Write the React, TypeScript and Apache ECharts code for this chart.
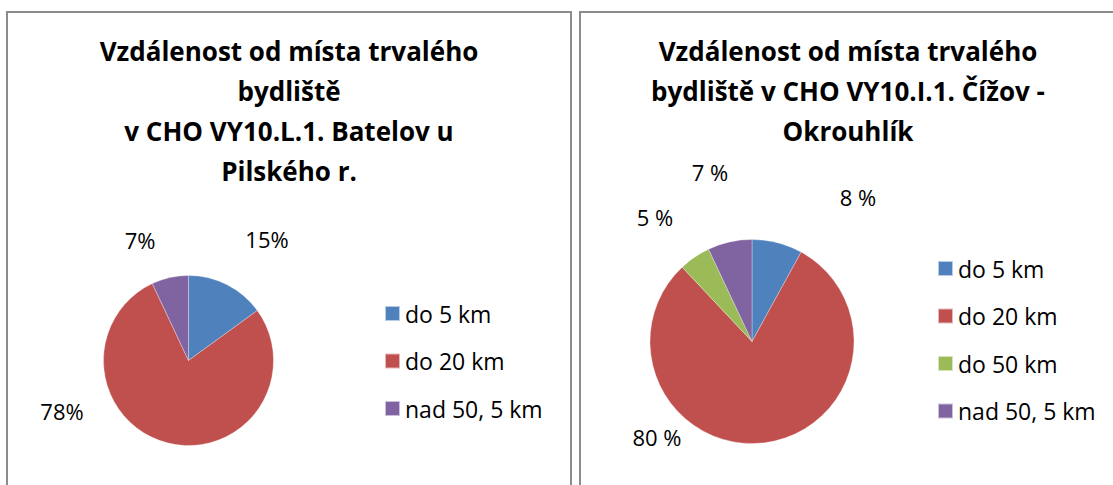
import React, { useEffect, useRef } from "react";
import * as echarts from "echarts";

// ---- data ----
const leftCategories = ["do 5 km", "do 20 km", "nad 50, 5 km"];
const leftValues = [15, 78, 7];
const leftColors = ["#4F81BD", "#C0504D", "#8064A2"];
const leftTitle = "Vzdálenost od místa trvalého\nbydliště\nv CHO VY10.L.1. Batelov u\nPilského r.";

const rightCategories = ["do 5 km", "do 20 km", "do 50 km", "nad 50, 5 km"];
const rightValues = [8, 80, 5, 7];
const rightColors = ["#4F81BD", "#C0504D", "#9BBB59", "#8064A2"];
const rightTitle = "Vzdálenost od místa trvalého\nbydliště v CHO VY10.I.1. Čížov -\nOkrouhlík";

// ---- layout (label anchor positions, Excel "best fit") ----
const leftLabelPos = [[267, 239], [62, 411], [140, 240]];
const rightLabelPos = [[858, 197], [657, 437], [655, 217], [710, 172]];

const FONT = "'Open Sans', 'Noto Sans', sans-serif";

export default function App() {
  const ref = useRef<HTMLDivElement>(null);
  useEffect(() => {
    if (!ref.current) return;
    const chart = echarts.init(ref.current, null, { renderer: "svg" });
    const legendBase = {
      orient: "vertical",
      icon: "rect",
      itemWidth: 15,
      itemHeight: 15,
      itemGap: 24.5,
      padding: 0,
      selectedMode: false,
      textStyle: { fontFamily: FONT, fontSize: 23, color: "#000", lineHeight: 21 },
    };
    const labelBase = {
      show: true,
      fontFamily: FONT,
      fontSize: 22,
      color: "#000",
    };
    chart.setOption({
      animation: false,
      backgroundColor: "#fff",
      graphic: [
        {
          type: "rect",
          shape: { x: 7, y: 12, width: 564, height: 500 },
          style: { fill: "none", stroke: "#8c8c8c", lineWidth: 2 },
          silent: true,
        },
        {
          type: "rect",
          shape: { x: 580, y: 12, width: 560, height: 500 },
          style: { fill: "none", stroke: "#8c8c8c", lineWidth: 2 },
          silent: true,
        },
        {
          type: "text",
          x: 289,
          y: 31,
          style: {
            text: leftTitle,
            textAlign: "center",
            textVerticalAlign: "top",
            font: `bold 26px ${FONT}`,
            lineHeight: 40,
            fill: "#000",
          },
        },
        {
          type: "text",
          x: 848,
          y: 31,
          style: {
            text: rightTitle,
            textAlign: "center",
            textVerticalAlign: "top",
            font: `bold 26px ${FONT}`,
            lineHeight: 40,
            fill: "#000",
          },
        },
      ],
      legend: [
        { ...legendBase, data: leftCategories, left: 384, top: 302 },
        { ...legendBase, data: rightCategories, left: 937, top: 257 },
      ],
      series: [
        {
          type: "pie",
          center: [188.5, 360.5],
          radius: 85,
          startAngle: 90,
          clockwise: true,
          itemStyle: { borderColor: "rgba(255,255,255,0.6)", borderWidth: 0.5 },
          label: { ...labelBase, formatter: "{c}%" },
          labelLine: { show: false },
          labelLayout: (p: any) => ({
            x: leftLabelPos[p.dataIndex][0],
            y: leftLabelPos[p.dataIndex][1],
            align: "center",
            verticalAlign: "middle",
          }),
          emphasis: { disabled: true },
          data: leftCategories.map((name, i) => ({
            name,
            value: leftValues[i],
            itemStyle: { color: leftColors[i] },
          })),
        },
        {
          type: "pie",
          center: [752, 341.5],
          radius: 102,
          startAngle: 90,
          clockwise: true,
          itemStyle: { borderColor: "rgba(255,255,255,0.6)", borderWidth: 0.5 },
          label: { ...labelBase, formatter: "{c} %" },
          labelLine: { show: false },
          labelLayout: (p: any) => ({
            x: rightLabelPos[p.dataIndex][0],
            y: rightLabelPos[p.dataIndex][1],
            align: "center",
            verticalAlign: "middle",
          }),
          emphasis: { disabled: true },
          data: rightCategories.map((name, i) => ({
            name,
            value: rightValues[i],
            itemStyle: { color: rightColors[i] },
          })),
        },
      ],
    });
    return () => chart.dispose();
  }, []);
  return (
    <div
      ref={ref}
      style={{ position: "fixed", left: 0, top: 0, width: 1113, height: 485 }}
    />
  );
}
